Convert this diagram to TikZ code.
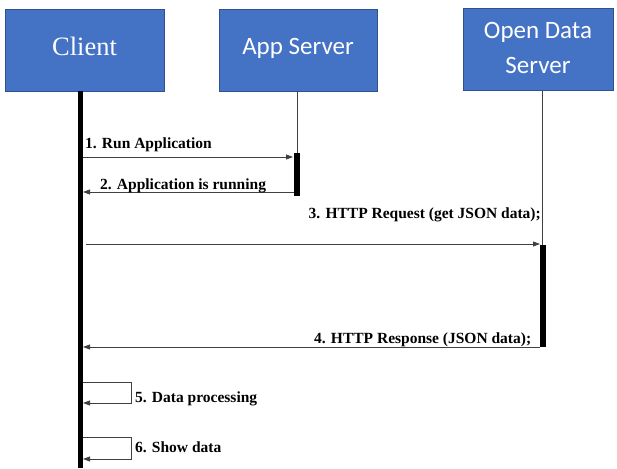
\documentclass[tikz,border=0pt]{standalone}
\usepackage{fontspec}
\setmainfont{Liberation Serif}
\newfontfamily\carlito{Carlito}
\usetikzlibrary{arrows.meta}
\definecolor{boxblue}{HTML}{4472C4}
\definecolor{boxborder}{HTML}{2F528F}
\definecolor{linegray}{HTML}{404040}
\begin{document}
\begin{tikzpicture}[x=1pt,y=-1pt,
  actor/.style={draw=boxborder, fill=boxblue, line width=0.8pt, text=white, minimum height=82pt, inner sep=0pt, align=center},
  msg/.style={font=\bfseries\fontsize{15.5}{17}\selectfont, inner sep=0pt},
  arr/.style={draw=linegray, line width=0.8pt, -{Triangle[length=7pt,width=5pt]}},
  thin/.style={draw=linegray, line width=0.6pt},
  bar/.style={fill=black, draw=none}]
\useasboundingbox (0,0) rectangle (617,468);
% actors
\node[actor, minimum width=159pt, font=\fontsize{26.5}{28}\selectfont] (client) at (84.5,50) {\raisebox{6.5pt}{Client}};
\node[actor, minimum width=158pt, font=\carlito\fontsize{25}{28}\selectfont] (app) at (298,50) {\raisebox{6.5pt}{App Server}};
\node[actor, minimum width=150pt, font=\carlito\fontsize{25}{35}\selectfont] (ods) at (538,49.5) {\raisebox{1.5pt}{\begin{tabular}{@{}c@{}}Open Data\\Server\end{tabular}}};
% lifelines
\fill[bar] (78,91) rectangle (83,468);
\coordinate (appTop) at (297,91);
\coordinate (appAct) at (297,153);
\draw[thin] (appTop) -- (appAct);
\fill[bar] (294,153) rectangle (300,196);
\coordinate (odsTop) at (542,91);
\coordinate (odsAct) at (542,245);
\draw[thin] (odsTop) -- (odsAct);
\fill[bar] (539.5,245) rectangle (545.5,347);
% message 1
\coordinate (m1s) at (83,157);
\coordinate (m1e) at (293,157);
\draw[arr] (m1s) -- (m1e);
\node[msg, anchor=base west] (t1) at (85,148) {1. Run Application};
% message 2
\coordinate (m2s) at (294,192);
\coordinate (m2e) at (83,192);
\draw[arr] (m2s) -- (m2e);
\node[msg, anchor=base west] (t2) at (100,189) {2. Application is running};
% message 3
\coordinate (m3s) at (86,244);
\coordinate (m3e) at (540,244);
\draw[arr] (m3s) -- (m3e);
\node[msg, anchor=base east] (t3) at (541,218) {3. HTTP Request (get JSON data);};
% message 4
\coordinate (m4s) at (539.5,347);
\coordinate (m4e) at (83,347);
\draw[arr] (m4s) -- (m4e);
\node[msg, anchor=base west] (t4) at (314,343) {4. HTTP Response (JSON data);};
% message 5
\coordinate (m5s) at (83,382);
\coordinate (m5a) at (131,382);
\coordinate (m5b) at (131,403);
\coordinate (m5e) at (83,403);
\draw[arr] (m5s) -- (m5a) -- (m5b) -- (m5e);
\node[msg, anchor=base west] (t5) at (135,402) {5. Data processing};
% message 6
\coordinate (m6s) at (83,437);
\coordinate (m6a) at (131,437);
\coordinate (m6b) at (131,459);
\coordinate (m6e) at (83,459);
\draw[arr] (m6s) -- (m6a) -- (m6b) -- (m6e);
\node[msg, anchor=base west] (t6) at (135,452) {6. Show data};
\end{tikzpicture}
\end{document}
